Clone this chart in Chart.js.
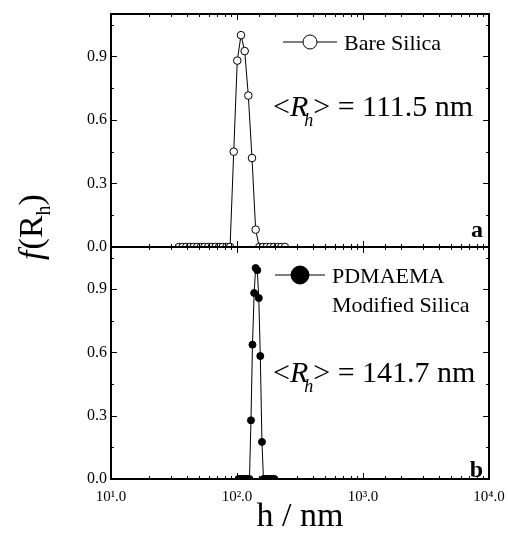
<!DOCTYPE html>
<html>
<head>
<meta charset="utf-8">
<script src="https://cdn.jsdelivr.net/npm/chart.js@4.4.1/dist/chart.umd.min.js"></script>
<style>
  html, body { margin: 0; padding: 0; background: #fff; }
  #wrap { position: relative; width: 508px; height: 534px; background: #fff; }
  #wrap canvas { position: absolute; left: 0; top: 0; }
</style>
</head>
<body>
<div id="wrap">
  <canvas id="chartTop" width="508" height="534"></canvas>
  <canvas id="chartBottom" width="508" height="534"></canvas>
</div>
<script>
const FONT = "'Liberation Serif', 'Times New Roman', serif";

// bare silica, h in nm and f(Rh)
const bareSize = [34.6, 37.0, 39.5, 42.3, 45.2, 48.3, 51.6, 55.2, 59.0, 63.1, 67.5, 72.1, 77.1, 82.4, 88.1,
  94.2, 100.5, 107.6, 115.1, 123.0, 131.5, 140.6,
  150.3, 160.7, 171.8, 183.7, 196.3, 209.9, 224.4, 239.9];
const bareF = [0, 0, 0, 0, 0, 0, 0, 0, 0, 0, 0, 0, 0, 0, 0,
  0.45, 0.88, 1.0, 0.925, 0.715, 0.42, 0.082,
  0, 0, 0, 0, 0, 0, 0, 0];

// PDMAEMA modified silica
const pdmaSize = [102.8, 105.7, 108.9, 111.9, 115.1, 118.6, 121.9, 125.6,
  129.1, 132.7, 136.8, 140.6, 144.9, 148.9, 153.1, 157.8,
  162.2, 167.1, 171.8, 176.6, 182.0, 187.1, 192.8, 198.2];
const pdmaF = [0, 0, 0, 0, 0, 0, 0, 0,
  0.278, 0.637, 0.882, 1.0, 0.99, 0.858, 0.583, 0.176,
  0, 0, 0, 0, 0, 0, 0, 0];

const xTickValues = [10, 100, 1000, 10000];
const xTickLabels = ['10\u00b9.0', '10\u00b2.0', '10\u00b3.0', '10\u2074.0'];
const meanRh = ['111.5', '141.7'];

const toPoints = (xs, ys) => xs.map((x, i) => ({ x: x, y: ys[i] }));

// рисует текст кусками с разными шрифтами
function drawParts(ctx, x, y, parts) {
  parts.forEach((p) => {
    ctx.font = p.font;
    ctx.fillText(p.text, x, y + (p.dy || 0));
    x += ctx.measureText(p.text).width + (p.dx || 0);
  });
}
function partsWidth(ctx, parts) {
  let w = 0;
  parts.forEach((p) => { ctx.font = p.font; w += ctx.measureText(p.text).width + (p.dx || 0); });
  return w;
}

const panelPlugin = {
  id: 'panel',
  afterDatasetsDraw(chart, args, opts) {
    const { ctx, chartArea: a, scales: { x, y } } = chart;
    ctx.save();
    ctx.strokeStyle = '#000';
    ctx.fillStyle = '#000';

    // тики внутрь на всех четырёх сторонах
    ctx.lineWidth = 1;
    ctx.beginPath();
    x.ticks.forEach((t) => {
      const px = Math.round(x.getPixelForValue(t.value)) + 0.5;
      const len = xTickValues.includes(t.value) ? 6 : 3;
      ctx.moveTo(px, a.bottom); ctx.lineTo(px, a.bottom - len);
      ctx.moveTo(px, a.top); ctx.lineTo(px, a.top + len);
    });
    y.ticks.forEach((t, i) => {
      const py = Math.round(y.getPixelForValue(t.value)) + 0.5;
      const len = i % 2 === 0 ? 6 : 3;
      ctx.moveTo(a.left, py); ctx.lineTo(a.left + len, py);
      ctx.moveTo(a.right, py); ctx.lineTo(a.right - len, py);
    });
    ctx.stroke();

    // рамка
    ctx.lineWidth = 2;
    ctx.strokeRect(a.left, a.top, a.right - a.left, a.bottom - a.top);

    // легенда
    const ds = chart.data.datasets[0];
    const lx = a.left + opts.legendDx, ly = a.top + 28;
    ctx.lineWidth = 1;
    ctx.beginPath(); ctx.moveTo(lx, ly); ctx.lineTo(lx + opts.legendLen, ly); ctx.stroke();
    ctx.beginPath(); ctx.arc(lx + opts.legendLen / 2, ly, opts.legendR, 0, Math.PI * 2);
    ctx.fillStyle = ds.pointBackgroundColor; ctx.fill(); ctx.stroke();
    ctx.fillStyle = '#000';
    ctx.textAlign = 'left';
    ctx.textBaseline = 'alphabetic';
    ctx.font = '22px ' + FONT;
    opts.legendLines.forEach((s, i) => ctx.fillText(s, lx + opts.legendLen + 7, a.top + 36 + i * 29));

    // <Rh> = ...
    drawParts(ctx, a.left + 162, a.top + opts.rhDy, [
      { text: '<', font: '30px ' + FONT },
      { text: 'R', font: 'italic 30px ' + FONT, dx: -4 },
      { text: 'h', font: 'italic 18px ' + FONT, dy: 10 },
      { text: '> = ' + opts.rh + ' nm', font: '30px ' + FONT }
    ]);

    // буква панели
    ctx.font = 'bold 24px ' + FONT;
    ctx.textAlign = 'right';
    ctx.fillText(opts.tag, a.right - 6, a.bottom - opts.tagDy);

    // подпись оси Y
    if (opts.yTitle) {
      const parts = [
        { text: 'f', font: 'italic 34px ' + FONT, dx: 1 },
        { text: '(R', font: '34px ' + FONT },
        { text: 'h', font: '20px ' + FONT, dy: 8 },
        { text: ')', font: '34px ' + FONT }
      ];
      ctx.translate(42, 227);
      ctx.rotate(-Math.PI / 2);
      ctx.textAlign = 'left';
      drawParts(ctx, -partsWidth(ctx, parts) / 2, 0, parts);
    }
    ctx.restore();
  }
};

function makeChart(id, sizes, values, isBottom, panelOpts) {
  return new Chart(document.getElementById(id), {
    type: 'scatter',
    data: {
      datasets: [{
        label: panelOpts.legendLines.join(' '),
        data: toPoints(sizes, values),
        showLine: true,
        borderColor: '#000',
        borderWidth: 1,
        tension: 0,
        pointRadius: isBottom ? 3.5 : 3.8,
        pointBorderWidth: 1,
        pointBorderColor: '#000',
        pointBackgroundColor: isBottom ? '#000' : '#fff'
      }]
    },
    options: {
      responsive: false,
      devicePixelRatio: 1,
      animation: false,
      layout: { padding: isBottom ? { left: 0, right: 19, top: 247, bottom: 0 } : { left: 0, right: 19, top: 14, bottom: 287 } },
      plugins: { legend: { display: false }, tooltip: { enabled: false }, panel: panelOpts },
      scales: {
        x: {
          type: 'logarithmic',
          min: 10,
          max: 10000,
          grid: { display: false, drawTicks: false },
          border: { display: false },
          ticks: {
            display: isBottom,
            autoSkip: false,
            maxRotation: 0,
            padding: 9,
            color: '#000',
            font: { family: FONT, size: 15 },
            callback: (v) => {
              const i = xTickValues.indexOf(v);
              return i >= 0 ? xTickLabels[i] : '';
            }
          },
          title: {
            display: isBottom,
            text: 'h / nm',
            color: '#000',
            font: { family: FONT, size: 34, lineHeight: 1 },
            padding: { top: 0, bottom: 0 }
          },
          afterFit: (s) => {
            s.height = isBottom ? 55 : 0;
            s.paddingLeft = 0;
            s.paddingRight = 0;
          }
        },
        y: {
          min: 0,
          max: 1.1,
          grid: { display: false, drawTicks: false },
          border: { display: false },
          ticks: {
            stepSize: 0.15,
            includeBounds: false,
            padding: 4,
            color: '#000',
            font: { family: FONT, size: 16 },
            callback: (v, i) => (i % 2 === 0 ? v.toFixed(1) : '')
          },
          afterFit: (s) => { s.width = 111; }
        }
      }
    },
    plugins: [panelPlugin]
  });
}

makeChart('chartTop', bareSize, bareF, false, {
  legendLines: ['Bare Silica'], legendDx: 172, legendLen: 54, legendR: 7,
  rh: meanRh[0], rhDy: 102, tag: 'a', tagDy: 10, yTitle: true
});
makeChart('chartBottom', pdmaSize, pdmaF, true, {
  legendLines: ['PDMAEMA', 'Modified Silica'], legendDx: 164, legendLen: 50, legendR: 9,
  rh: meanRh[1], rhDy: 135, tag: 'b', tagDy: 2, yTitle: false
});
</script>
</body>
</html>
